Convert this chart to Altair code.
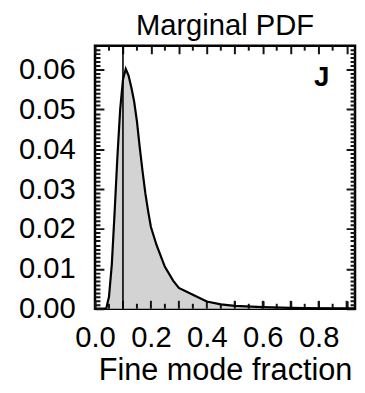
import altair as alt
import pandas as pd

# ---- data ----
fmf = [0.040, 0.050, 0.060, 0.070, 0.080, 0.090, 0.100, 0.110, 0.120, 0.130,
       0.140, 0.150, 0.160, 0.170, 0.180, 0.190, 0.200, 0.220, 0.250, 0.280,
       0.300, 0.350, 0.400, 0.450, 0.500, 0.600, 0.700, 0.800, 0.930]
pdf = [0.0000, 0.0030, 0.0110, 0.0240, 0.0380, 0.0500, 0.0575, 0.0602, 0.0585, 0.0555,
       0.0520, 0.0470, 0.0405, 0.0345, 0.0290, 0.0245, 0.0205, 0.0160, 0.0105, 0.0070,
       0.0052, 0.0035, 0.0018, 0.0011, 0.0007, 0.0004, 0.0002, 0.0001, 0.00005]
marker_x = [0.1]
panel_label = "J"
chart_title = "Marginal PDF"
x_title = "Fine mode fraction"

x_labels = [0.0, 0.2, 0.4, 0.6, 0.8]
y_labels = [0.00, 0.01, 0.02, 0.03, 0.04, 0.05, 0.06]
x_major = [0.0, 0.1, 0.2, 0.3, 0.4, 0.5, 0.6, 0.7, 0.8, 0.9]
x_minor = [0.05, 0.15, 0.25, 0.35, 0.45, 0.55, 0.65, 0.75, 0.85]
y_major = [0.00, 0.01, 0.02, 0.03, 0.04, 0.05, 0.06]
y_minor = [round(i * 0.001, 3) for i in range(0, 66) if i % 10 != 0]

X_DOMAIN = [0, 0.93]
Y_DOMAIN = [0, 0.066]
W, H = 263, 266
FONT = "Liberation Sans"
LFS = 29.5
TICK = "#141414"

curve = pd.DataFrame({"x": fmf, "y": pdf})
xs = alt.Scale(domain=X_DOMAIN, nice=False, zero=False)
ys = alt.Scale(domain=Y_DOMAIN, nice=False, zero=False)


def in_list(vals, mult):
    return "indexof([%s], round(datum.value*%d)) >= 0" % (
        ",".join(str(int(round(v * mult))) for v in vals), mult)


# major x ticks (inward, top and bottom) drawn as dashed grid lines
x_axis = alt.Axis(
    values=x_major,
    labelExpr="%s ? format(datum.value, '.1f') : ''" % in_list(x_labels, 1000),
    ticks=False, domain=False,
    grid=True, gridColor=TICK, gridWidth=2, gridOpacity=1,
    gridDash=[8, H - 16, 8, 2000],
    labelPadding=15, labelFontSize=LFS, labelFont=FONT,
    labelColor="black", labelFlush=False, labelOverlap=False,
    title=x_title, titleFont=FONT, titleFontSize=31, titleFontWeight="normal",
    titleColor="black", titleBaseline="alphabetic", titleY=72)
# major and minor y ticks (inward, left and right)
y_axis = alt.Axis(
    values=sorted(y_major + y_minor),
    labelExpr="%s ? format(datum.value, '.2f') : ''" % in_list(y_labels, 10000),
    ticks=False, domain=False,
    grid=True, gridColor=TICK, gridWidth=2, gridOpacity=1,
    gridDash={"condition": {"test": in_list(y_major, 10000), "value": [9, W - 18, 9, 2000]},
              "value": [5, W - 10, 5, 2000]},
    labelPadding=20, labelFontSize=LFS, labelFont=FONT,
    labelColor="black", labelFlush=False, labelOverlap=False,
    title="")

X = lambda: alt.X("x:Q", scale=xs, axis=x_axis)
Y = lambda: alt.Y("y:Q", scale=ys, axis=y_axis)

area = alt.Chart(curve).mark_area(color="#d3d3d3", opacity=1).encode(x=X(), y=Y())


def xticks(vals, y0, y1):
    return alt.Chart(pd.DataFrame({"x": vals})).mark_rule(
        color=TICK, strokeWidth=2).encode(x=X(), y=alt.value(y0), y2=alt.value(y1))


line = alt.Chart(curve).mark_line(color="black", strokeWidth=2.2).encode(x=X(), y=Y())
vline = alt.Chart(pd.DataFrame({"x": marker_x})).mark_rule(
    color="black", strokeWidth=1.6).encode(x=X())

label = alt.Chart(pd.DataFrame({"t": [panel_label]})).mark_text(
    font=FONT, fontSize=28, fontWeight="bold", color="black", align="right",
    baseline="alphabetic").encode(
    text="t:N", x=alt.value(W - 26), y=alt.value(41))

title = alt.Chart(pd.DataFrame({"t": [chart_title]})).mark_text(
    font=FONT, fontSize=29.5, color="black", align="center",
    baseline="alphabetic").encode(
    text="t:N", x=alt.value(W / 2), y=alt.value(-11))

chart = alt.layer(
    area,
    xticks(x_major, H, H - 8),   # bottom major, above the grey fill
    xticks(x_minor, H, H - 5),   # bottom minor
    xticks(x_minor, 0, 5),       # top minor
    line, vline, label, title,
).properties(
    width=W, height=H,
    autosize=alt.AutoSizeParams(type="none"),
    padding={"left": 88, "top": 36, "right": 2, "bottom": 75},
).configure_view(stroke="black", strokeWidth=2.5)

chart.save("out.html", embed_options={"renderer": "svg", "actions": False})
